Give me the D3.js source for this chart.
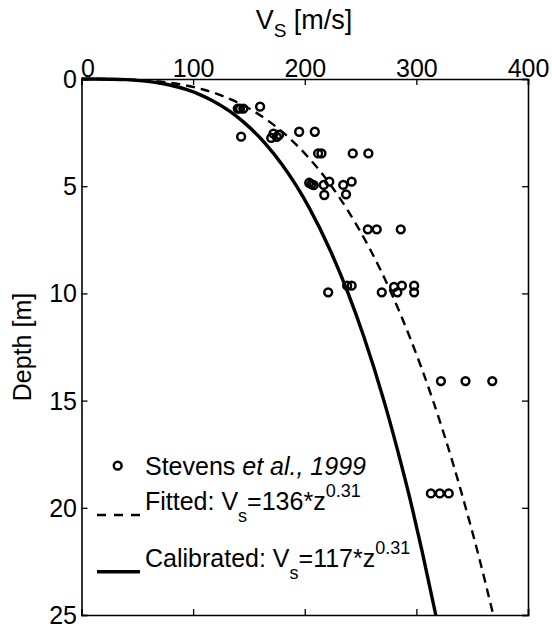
<!DOCTYPE html>
<html>
<head>
<meta charset="utf-8">
<script src="https://cdn.jsdelivr.net/npm/d3@7"></script>
<style>
  html, body { margin: 0; padding: 0; background: #fff; }
  svg { display: block; font-family: "Liberation Sans", Arial, Helvetica, sans-serif; }
</style>
</head>
<body>
<svg id="chart" width="552" height="632"></svg>
<script>
// ---- data ----
const xTicks = [0, 100, 200, 300, 400];
const yTicks = [0, 5, 10, 15, 20, 25];

// Stevens et al., 1999 measurements
const obsVs = [140, 142, 145, 160,
  143, 170, 172, 175, 177, 195, 209,
  212, 215, 243, 257,
  204, 206, 208, 217, 222, 234.5, 242, 217.5, 237,
  256.5, 264.5, 286,
  221, 238, 242, 269, 280, 283, 287, 298, 298,
  322, 344, 368,
  313, 321, 329];
const obsDepth = [1.38, 1.38, 1.38, 1.29,
  2.69, 2.75, 2.55, 2.7, 2.6, 2.46, 2.46,
  3.47, 3.47, 3.47, 3.47,
  4.84, 4.9, 4.95, 4.94, 4.79, 4.94, 4.79, 5.41, 5.38,
  7.01, 7.01, 7.01,
  9.95, 9.64, 9.64, 9.95, 9.7, 9.95, 9.64, 9.64, 9.95,
  14.09, 14.09, 14.09,
  19.33, 19.33, 19.33];

// Profile curves
const curveDepth = [0, 0.0001, 0.001, 0.01, 0.03, 0.05, 0.1, 0.2, 0.35, 0.5, 0.75, 1, 1.5, 2, 3, 4, 5, 6, 8, 10, 12, 15, 18, 20, 22, 25];
const fittedVs = [0, 7.8, 16.0, 32.6, 45.9, 53.7, 66.6, 82.6, 98.2, 109.7, 124.4, 136, 154.2, 168.6, 191.2, 209.0, 224.0, 237.0, 259.1, 277.7, 293.8, 314.9, 333.2, 344.2, 354.6, 368.9];
const calibratedVs = [0, 6.7, 13.7, 28.1, 39.5, 46.2, 57.3, 71.0, 84.5, 94.4, 107.0, 117, 132.7, 145.0, 164.5, 179.8, 192.7, 203.9, 222.9, 238.9, 252.8, 270.9, 286.6, 296.2, 305.0, 317.4];

// ---- layout ----
const svg = d3.select("#chart");
const L = 81.5, R = 528, T = 79, B = 615;
const x = d3.scaleLinear().domain([0, 400]).range([L, R]);
const y = d3.scaleLinear().domain([0, 25]).range([T, B]);
const FS = 25;

svg.append("defs").append("clipPath").attr("id", "clip")
  .append("rect").attr("x", L - 2).attr("y", T - 2).attr("width", R - L + 4).attr("height", B - T + 4);

// axes with inward ticks
const tickLen = 6;
const gTop = svg.append("g").attr("transform", `translate(0,${T})`)
  .call(d3.axisTop(x).tickValues(xTicks).tickSize(-tickLen).tickPadding(2).tickFormat(d3.format("d")));
const gBottom = svg.append("g").attr("transform", `translate(0,${B})`)
  .call(d3.axisBottom(x).tickValues(xTicks).tickSize(-tickLen).tickFormat(""));
const gLeft = svg.append("g").attr("transform", `translate(${L},0)`)
  .call(d3.axisLeft(y).tickValues(yTicks).tickSize(-tickLen).tickPadding(4.5).tickFormat(d3.format("d")));
const gRight = svg.append("g").attr("transform", `translate(${R},0)`)
  .call(d3.axisRight(y).tickValues(yTicks).tickSize(-tickLen).tickFormat(""));

[gTop, gBottom, gLeft, gRight].forEach(g => {
  g.select(".domain").attr("stroke", "#000").attr("stroke-width", 1.6);
  g.selectAll(".tick line").attr("stroke", "#000").attr("stroke-width", 1.3);
  g.selectAll(".tick text").attr("fill", "#000").attr("font-size", FS)
    .attr("font-family", "Liberation Sans, Arial, sans-serif");
});
gTop.selectAll(".tick text").filter(d => d === 0).attr("dx", 6);
gLeft.selectAll(".tick text").attr("dy", "0.34em");

// curves
const lineGen = (vals) => d3.line()
  .x((d, i) => x(vals[i]))
  .y(d => y(d))
  .curve(d3.curveMonotoneX);

const plot = svg.append("g").attr("clip-path", "url(#clip)");
plot.append("path").datum(curveDepth)
  .attr("d", lineGen(fittedVs))
  .attr("fill", "none").attr("stroke", "#000").attr("stroke-width", 2.4)
  .attr("stroke-dasharray", "9,6");
plot.append("path").datum(curveDepth)
  .attr("d", lineGen(calibratedVs))
  .attr("fill", "none").attr("stroke", "#000").attr("stroke-width", 3.4);

// observation circles
plot.selectAll("circle.obs").data(obsVs).enter().append("circle")
  .attr("class", "obs")
  .attr("cx", d => x(d))
  .attr("cy", (d, i) => y(obsDepth[i]))
  .attr("r", 3.9)
  .attr("fill", "none").attr("stroke", "#000").attr("stroke-width", 2.5);

// axis titles
const title = svg.append("text").attr("x", 304).attr("y", 29)
  .attr("text-anchor", "middle").attr("font-size", 27).attr("fill", "#000");
title.append("tspan").text("V");
title.append("tspan").attr("dy", 8).attr("font-size", 19).text("S");
title.append("tspan").attr("dy", -8).text(" [m/s]");

svg.append("text")
  .attr("transform", "translate(31,347) rotate(-90)")
  .attr("text-anchor", "middle").attr("font-size", FS).attr("fill", "#000")
  .text("Depth [m]");

// legend
const lg = svg.append("g");
lg.append("circle").attr("cx", 117.7).attr("cy", 465.7).attr("r", 3.9)
  .attr("fill", "none").attr("stroke", "#000").attr("stroke-width", 2.5);
const t1 = lg.append("text").attr("x", 145).attr("y", 475).attr("font-size", FS).attr("fill", "#000");
t1.append("tspan").text("Stevens ");
t1.append("tspan").attr("font-style", "italic").text("et al., 1999");

lg.append("line").attr("x1", 97).attr("x2", 140).attr("y1", 515).attr("y2", 515)
  .attr("stroke", "#000").attr("stroke-width", 2.4).attr("stroke-dasharray", "9,8");
const t2 = lg.append("text").attr("x", 145).attr("y", 510).attr("font-size", FS).attr("fill", "#000");
t2.append("tspan").text("Fitted: V");
t2.append("tspan").attr("dy", 12).attr("font-size", 18).text("s");
t2.append("tspan").attr("dy", -12).text("=136*z");
t2.append("tspan").attr("dy", -13).attr("font-size", 18).text("0.31");

lg.append("line").attr("x1", 97).attr("x2", 140).attr("y1", 571.7).attr("y2", 571.7)
  .attr("stroke", "#000").attr("stroke-width", 3.6);
const t3 = lg.append("text").attr("x", 145).attr("y", 566.7).attr("font-size", FS).attr("fill", "#000");
t3.append("tspan").text("Calibrated: V");
t3.append("tspan").attr("dy", 12).attr("font-size", 18).text("s");
t3.append("tspan").attr("dy", -12).text("=117*z");
t3.append("tspan").attr("dy", -13).attr("font-size", 18).text("0.31");
</script>
</body>
</html>
